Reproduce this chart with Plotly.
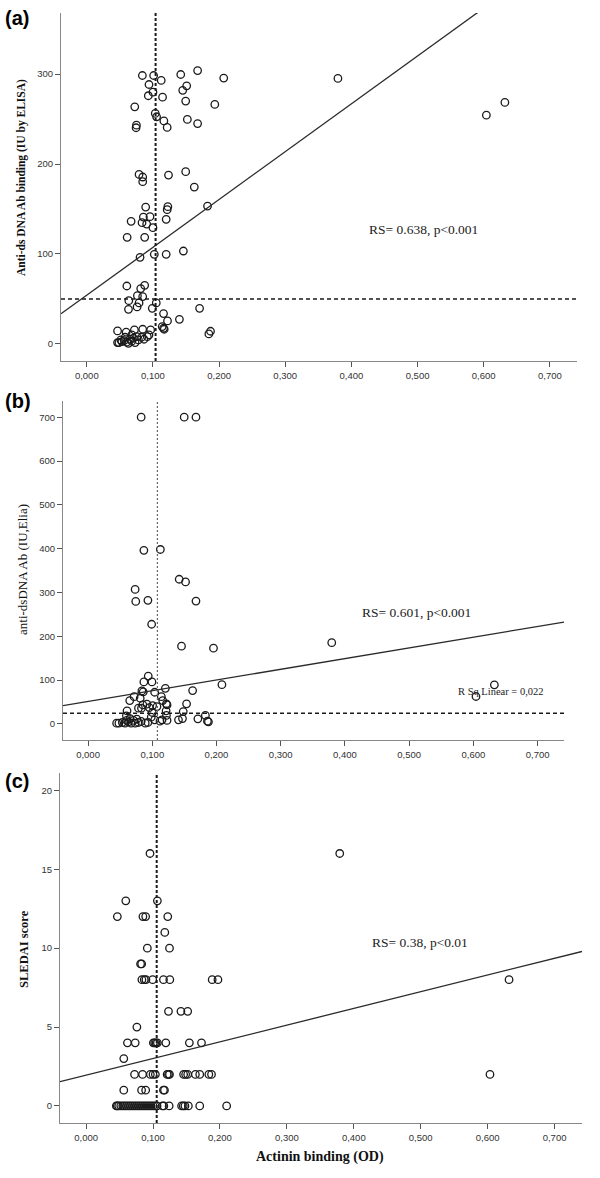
import plotly.graph_objects as go

# ---------------- data ----------------
# Panel (a): Actinin binding (OD) vs anti-ds DNA Ab binding (IU by ELISA)
a_x = [0.084, 0.101, 0.142, 0.1675, 0.207, 0.1125, 0.094, 0.151, 0.100, 0.093,
       0.1145, 0.145, 0.1495, 0.0725, 0.1935, 0.1035, 0.1055, 0.1165, 0.152, 0.1675,
       0.075, 0.0745, 0.1215,
       0.079, 0.0845, 0.0845, 0.1235, 0.1495, 0.1625, 0.089, 0.1225, 0.1215, 0.1825,
       0.067, 0.0855, 0.0955, 0.0835, 0.0905, 0.100, 0.120, 0.061, 0.0875, 0.146,
       0.0805, 0.102, 0.120,
       0.0605, 0.0875, 0.0815, 0.0765, 0.0845, 0.0635, 0.079, 0.105, 0.076, 0.063,
       0.099, 0.1705, 0.116, 0.140, 0.122, 0.114, 0.116, 0.117, 0.187, 0.1845,
       0.0465, 0.0595, 0.072, 0.0845, 0.0965,
       0.0465, 0.0485, 0.053, 0.0565, 0.0605, 0.063, 0.0655, 0.068, 0.0705, 0.073,
       0.0755, 0.078, 0.083, 0.0865, 0.0915, 0.094, 0.068, 0.058, 0.0515,
       0.3796, 0.604, 0.632]
a_y = [298.5, 298.5, 299.6, 304, 295.6, 293, 288.5, 287, 280, 276,
       274.4, 282, 270, 263.7, 266.3, 256.3, 252.6, 248, 249.6, 245,
       243.3, 240.4, 240.7,
       188.5, 185.6, 180.4, 187.8, 191.5, 174.4, 152.2, 152.6, 149.3, 153.3,
       136.3, 141.1, 141.5, 134.8, 133.3, 129.3, 138.5, 118.5, 118.5, 103.3,
       96.3, 99.6, 99.6,
       64.4, 65.2, 61.5, 53.7, 52.6, 48.1, 45.6, 45.6, 41.1, 38.5,
       39.6, 39.6, 33.7, 27.4, 25.6, 19.3, 17.4, 16.3, 14.1, 11.1,
       14.4, 13.0, 15.6, 16.3, 15.6,
       1.5, 1.5, 2.6, 3.7, 1.9, 0.7, 5.2, 3.0, 6.3, 1.5,
       8.1, 4.4, 7.4, 5.2, 8.1, 10.0, 10.0, 7.4, 4.4,
       295.2, 254.4, 268.5]

# Panel (b): Actinin binding (OD) vs anti-dsDNA Ab (IU, Elia)
b_x = [0.0827, 0.1497, 0.168, 0.0869, 0.1126, 0.1419, 0.1518, 0.0733, 0.0743, 0.0932,
       0.168, 0.099, 0.1455, 0.1953, 0.2084, 0.0937, 0.0869, 0.0995, 0.1628, 0.0838,
       0.0859, 0.1037, 0.1204, 0.0717, 0.1141, 0.0649, 0.0812, 0.1162, 0.1534, 0.122,
       0.123, 0.0853, 0.0916, 0.0785, 0.0953, 0.1005, 0.1073, 0.0607, 0.0832, 0.100,
       0.1215, 0.1482, 0.122, 0.1827, 0.0597, 0.0984, 0.1408, 0.147, 0.171, 0.1859,
       0.1874, 0.1037, 0.112, 0.1152, 0.123,
       0.0445, 0.048, 0.0534, 0.0576, 0.0628, 0.067, 0.0707, 0.0733, 0.0759, 0.0785,
       0.0827, 0.089, 0.0932, 0.0654, 0.0602,
       0.3794, 0.604, 0.6326]
b_y = [700, 700, 700, 396, 398, 330, 324, 306.8, 279.5, 281.8,
       280.3, 227.3, 177.3, 172.7, 89.4, 109, 95.5, 95.5, 75.8, 75,
       72.7, 72, 81, 62, 62, 53, 58.3, 53, 45.5, 45.5,
       43, 43, 44.7, 35.6, 37, 41.7, 39.4, 29.5, 35.6, 25.8,
       29.5, 28, 19, 19, 18.2, 15, 9, 12, 11.4, 6,
       4.5, 9, 6, 9, 7.6,
       1.5, 1.5, 3, 1.5, 4.5, 1.5, 7.6, 1.5, 10.6, 3,
       5.3, 1.5, 3, 12, 7.6,
       185.3, 62.3, 88.9]

# Panel (c): Actinin binding (OD) vs SLEDAI score
c_x = [0.0955, 0.0593, 0.1065, 0.0467, 0.0849, 0.089, 0.122, 0.1176, 0.0915, 0.1246,
       0.0814, 0.083, 0.0834, 0.0869, 0.0894, 0.0995, 0.1156, 0.1251, 0.1884, 0.197,
       0.1231, 0.1417, 0.1518, 0.0759,
       0.0618, 0.0734, 0.1005, 0.1025, 0.1045, 0.1065, 0.1191, 0.1543, 0.1724,
       0.0563,
       0.0724, 0.0844, 0.096, 0.100, 0.1035, 0.1211, 0.1231, 0.1246, 0.1457, 0.1487,
       0.1518, 0.1633, 0.1698, 0.1834, 0.1874,
       0.0563, 0.0829, 0.089, 0.1156, 0.1171,
       0.0452, 0.0467, 0.0487, 0.0518, 0.0548, 0.0578, 0.0608, 0.0638, 0.0668, 0.0698,
       0.0729, 0.0759, 0.0789, 0.0819, 0.0849, 0.0879, 0.091, 0.094, 0.097, 0.100,
       0.103, 0.106, 0.1141, 0.1161, 0.1241, 0.1427, 0.1452, 0.1477, 0.1528, 0.1698,
       0.210,
       0.379, 0.632, 0.6035]
c_y = [16, 13, 13, 12, 12, 12, 12, 11, 10, 10,
       9, 9, 8, 8, 8, 8, 8, 8, 8, 8,
       6, 6, 6, 5,
       4, 4, 4, 4, 4, 4, 4, 4, 4,
       3,
       2, 2, 2, 2, 2, 2, 2, 2, 2, 2,
       2, 2, 2, 2, 2,
       1, 1, 1, 1, 1,
       0, 0, 0, 0, 0, 0, 0, 0, 0, 0,
       0, 0, 0, 0, 0, 0, 0, 0, 0, 0,
       0, 0, 0, 0, 0, 0, 0, 0, 0, 0,
       0,
       16, 8, 2]

# fit lines (intercept, slope) and cut-off reference lines
fit_a = (54.2, 532.0)
fit_b = (51.0, 244.6)
fit_c = (1.95, 10.58)
cut_x = [0.104, 0.108, 0.1055]
cut_y_a = 50
cut_y_b = 24

x_ticks = [0.0, 0.1, 0.2, 0.3, 0.4, 0.5, 0.6, 0.7]
x_tick_labels = ["0,000", "0,100", "0,200", "0,300", "0,400", "0,500", "0,600", "0,700"]
a_y_ticks = [0, 100, 200, 300]
b_y_ticks = [0, 100, 200, 300, 400, 500, 600, 700]
c_y_ticks = [0, 5, 10, 15, 20]

annot_a = "RS= 0.638, p<0.001"
annot_b = "RS= 0.601, p<0.001"
annot_b2 = "R Sq Linear = 0,022"
annot_c = "RS= 0.38, p<0.01"

# ---------------- figure ----------------
W, H = 600, 1178
X_RANGE = [-0.039, 0.741]


def px_x(p):
    return p / W


def px_y(p):
    return 1 - p / H


fig = go.Figure()

marker = dict(symbol="circle-open", size=7.5, color="#1a1a1a", line=dict(width=1.3, color="#1a1a1a"))

panels = [
    ("x", "y", a_x, a_y, fit_a),
    ("x2", "y2", b_x, b_y, fit_b),
    ("x3", "y3", c_x, c_y, fit_c),
]

for xa, ya, xs, ys, fit in panels:
    fig.add_trace(go.Scatter(x=xs, y=ys, mode="markers", marker=marker,
                             xaxis=xa, yaxis=ya, showlegend=False, hoverinfo="skip"))
    fx = [X_RANGE[0], X_RANGE[1]]
    fy = [fit[0] + fit[1] * v for v in fx]
    fig.add_trace(go.Scatter(x=fx, y=fy, mode="lines", line=dict(color="#2a2a2a", width=1.3),
                             xaxis=xa, yaxis=ya, showlegend=False, hoverinfo="skip"))

tickfont = dict(family="Liberation Sans, Arial, sans-serif", size=9.5, color="#333333")
axis_common = dict(showgrid=False, zeroline=False, showline=True, linecolor="#888888", linewidth=1.2,
                   ticks="outside", ticklen=5, tickwidth=1.2, tickcolor="#555555", tickfont=tickfont,
                   automargin=False)

domains = {
    "a": ([61, 577], [13, 361]),
    "b": ([63, 564], [401, 740]),
    "c": ([60, 582], [773, 1123]),
}

layout = dict(
    width=W, height=H,
    margin=dict(l=0, r=0, t=0, b=0),
    paper_bgcolor="white", plot_bgcolor="white",
    showlegend=False,
)

for key, xa, ya, yr, yt, anchor_x, anchor_y in [
    ("a", "xaxis", "yaxis", [-19, 368], a_y_ticks, "y", "x"),
    ("b", "xaxis2", "yaxis2", [-37, 737], b_y_ticks, "y2", "x2"),
    ("c", "xaxis3", "yaxis3", [-1.08, 21.1], c_y_ticks, "y3", "x3"),
]:
    (xl, xr), (yt_px, yb_px) = domains[key]
    layout[xa] = dict(domain=[px_x(xl), px_x(xr)], range=X_RANGE, anchor=anchor_x,
                      tickvals=x_ticks, ticktext=x_tick_labels, **axis_common)
    layout[ya] = dict(domain=[px_y(yb_px), px_y(yt_px)], range=yr, anchor=anchor_y,
                      tickvals=yt, ticktext=[str(v) for v in yt], **axis_common)

fig.update_layout(**layout)

# reference (cut-off) lines
fig.add_shape(type="line", xref="x", yref="y domain", x0=cut_x[0], x1=cut_x[0], y0=0, y1=1,
              line=dict(color="#1a1a1a", width=2, dash="3px,2px"))
fig.add_shape(type="line", xref="x domain", yref="y", x0=0, x1=1, y0=cut_y_a, y1=cut_y_a,
              line=dict(color="#1a1a1a", width=1.6, dash="4px,3px"))
fig.add_shape(type="line", xref="x2", yref="y2 domain", x0=cut_x[1], x1=cut_x[1], y0=0, y1=1,
              line=dict(color="#666666", width=1.2, dash="2px,2px"))
fig.add_shape(type="line", xref="x2 domain", yref="y2", x0=0, x1=1, y0=cut_y_b, y1=cut_y_b,
              line=dict(color="#1a1a1a", width=1.6, dash="4px,3px"))
fig.add_shape(type="line", xref="x3", yref="y3 domain", x0=cut_x[2], x1=cut_x[2], y0=0, y1=1,
              line=dict(color="#1a1a1a", width=2, dash="3px,2px"))

serif = "Liberation Serif, Times New Roman, serif"
sans_bold = "Liberation Sans, Arial, sans-serif"

annots = [
    # panel letters
    dict(text="<b>(a)</b>", x=px_x(3), y=px_y(18), xanchor="left", yanchor="middle",
         font=dict(family=sans_bold, size=20, color="black")),
    dict(text="<b>(b)</b>", x=px_x(3), y=px_y(401), xanchor="left", yanchor="middle",
         font=dict(family=sans_bold, size=20, color="black")),
    dict(text="<b>(c)</b>", x=px_x(3), y=px_y(781), xanchor="left", yanchor="middle",
         font=dict(family=sans_bold, size=20, color="black")),
    # y titles
    dict(text="<b>Anti-ds DNA Ab binding (IU by ELISA)</b>", x=px_x(22), y=px_y(178), textangle=-90,
         xanchor="center", yanchor="middle", font=dict(family=serif, size=11.5, color="#111111")),
    dict(text="anti-dsDNA Ab (IU,Elia)", x=px_x(22), y=px_y(570), textangle=-90,
         xanchor="center", yanchor="middle", font=dict(family=serif, size=13, color="#111111")),
    dict(text="<b>SLEDAI score</b>", x=px_x(24), y=px_y(949), textangle=-90,
         xanchor="center", yanchor="middle", font=dict(family=serif, size=12.5, color="#111111")),
    # x title
    dict(text="<b>Actinin binding (OD)</b>", x=px_x(320), y=px_y(1157), xanchor="center", yanchor="middle",
         font=dict(family=serif, size=14, color="#111111")),
    # statistics
    dict(text=annot_a, x=px_x(423), y=px_y(230), xanchor="center", yanchor="middle",
         font=dict(family=serif, size=13.5, color="#222222")),
    dict(text=annot_b, x=px_x(416), y=px_y(612), xanchor="center", yanchor="middle",
         font=dict(family=serif, size=13.5, color="#222222")),
    dict(text=annot_b2, x=px_x(501), y=px_y(691), xanchor="center", yanchor="middle",
         font=dict(family=serif, size=10.5, color="#222222")),
    dict(text=annot_c, x=px_x(420), y=px_y(943), xanchor="center", yanchor="middle",
         font=dict(family=serif, size=13.5, color="#222222")),
]
for a in annots:
    a.update(xref="paper", yref="paper", showarrow=False)
    fig.add_annotation(**a)

fig.write_html("out.html", config={"displayModeBar": False},
               post_script="document.body.style.margin='0';document.body.style.padding='0';")
